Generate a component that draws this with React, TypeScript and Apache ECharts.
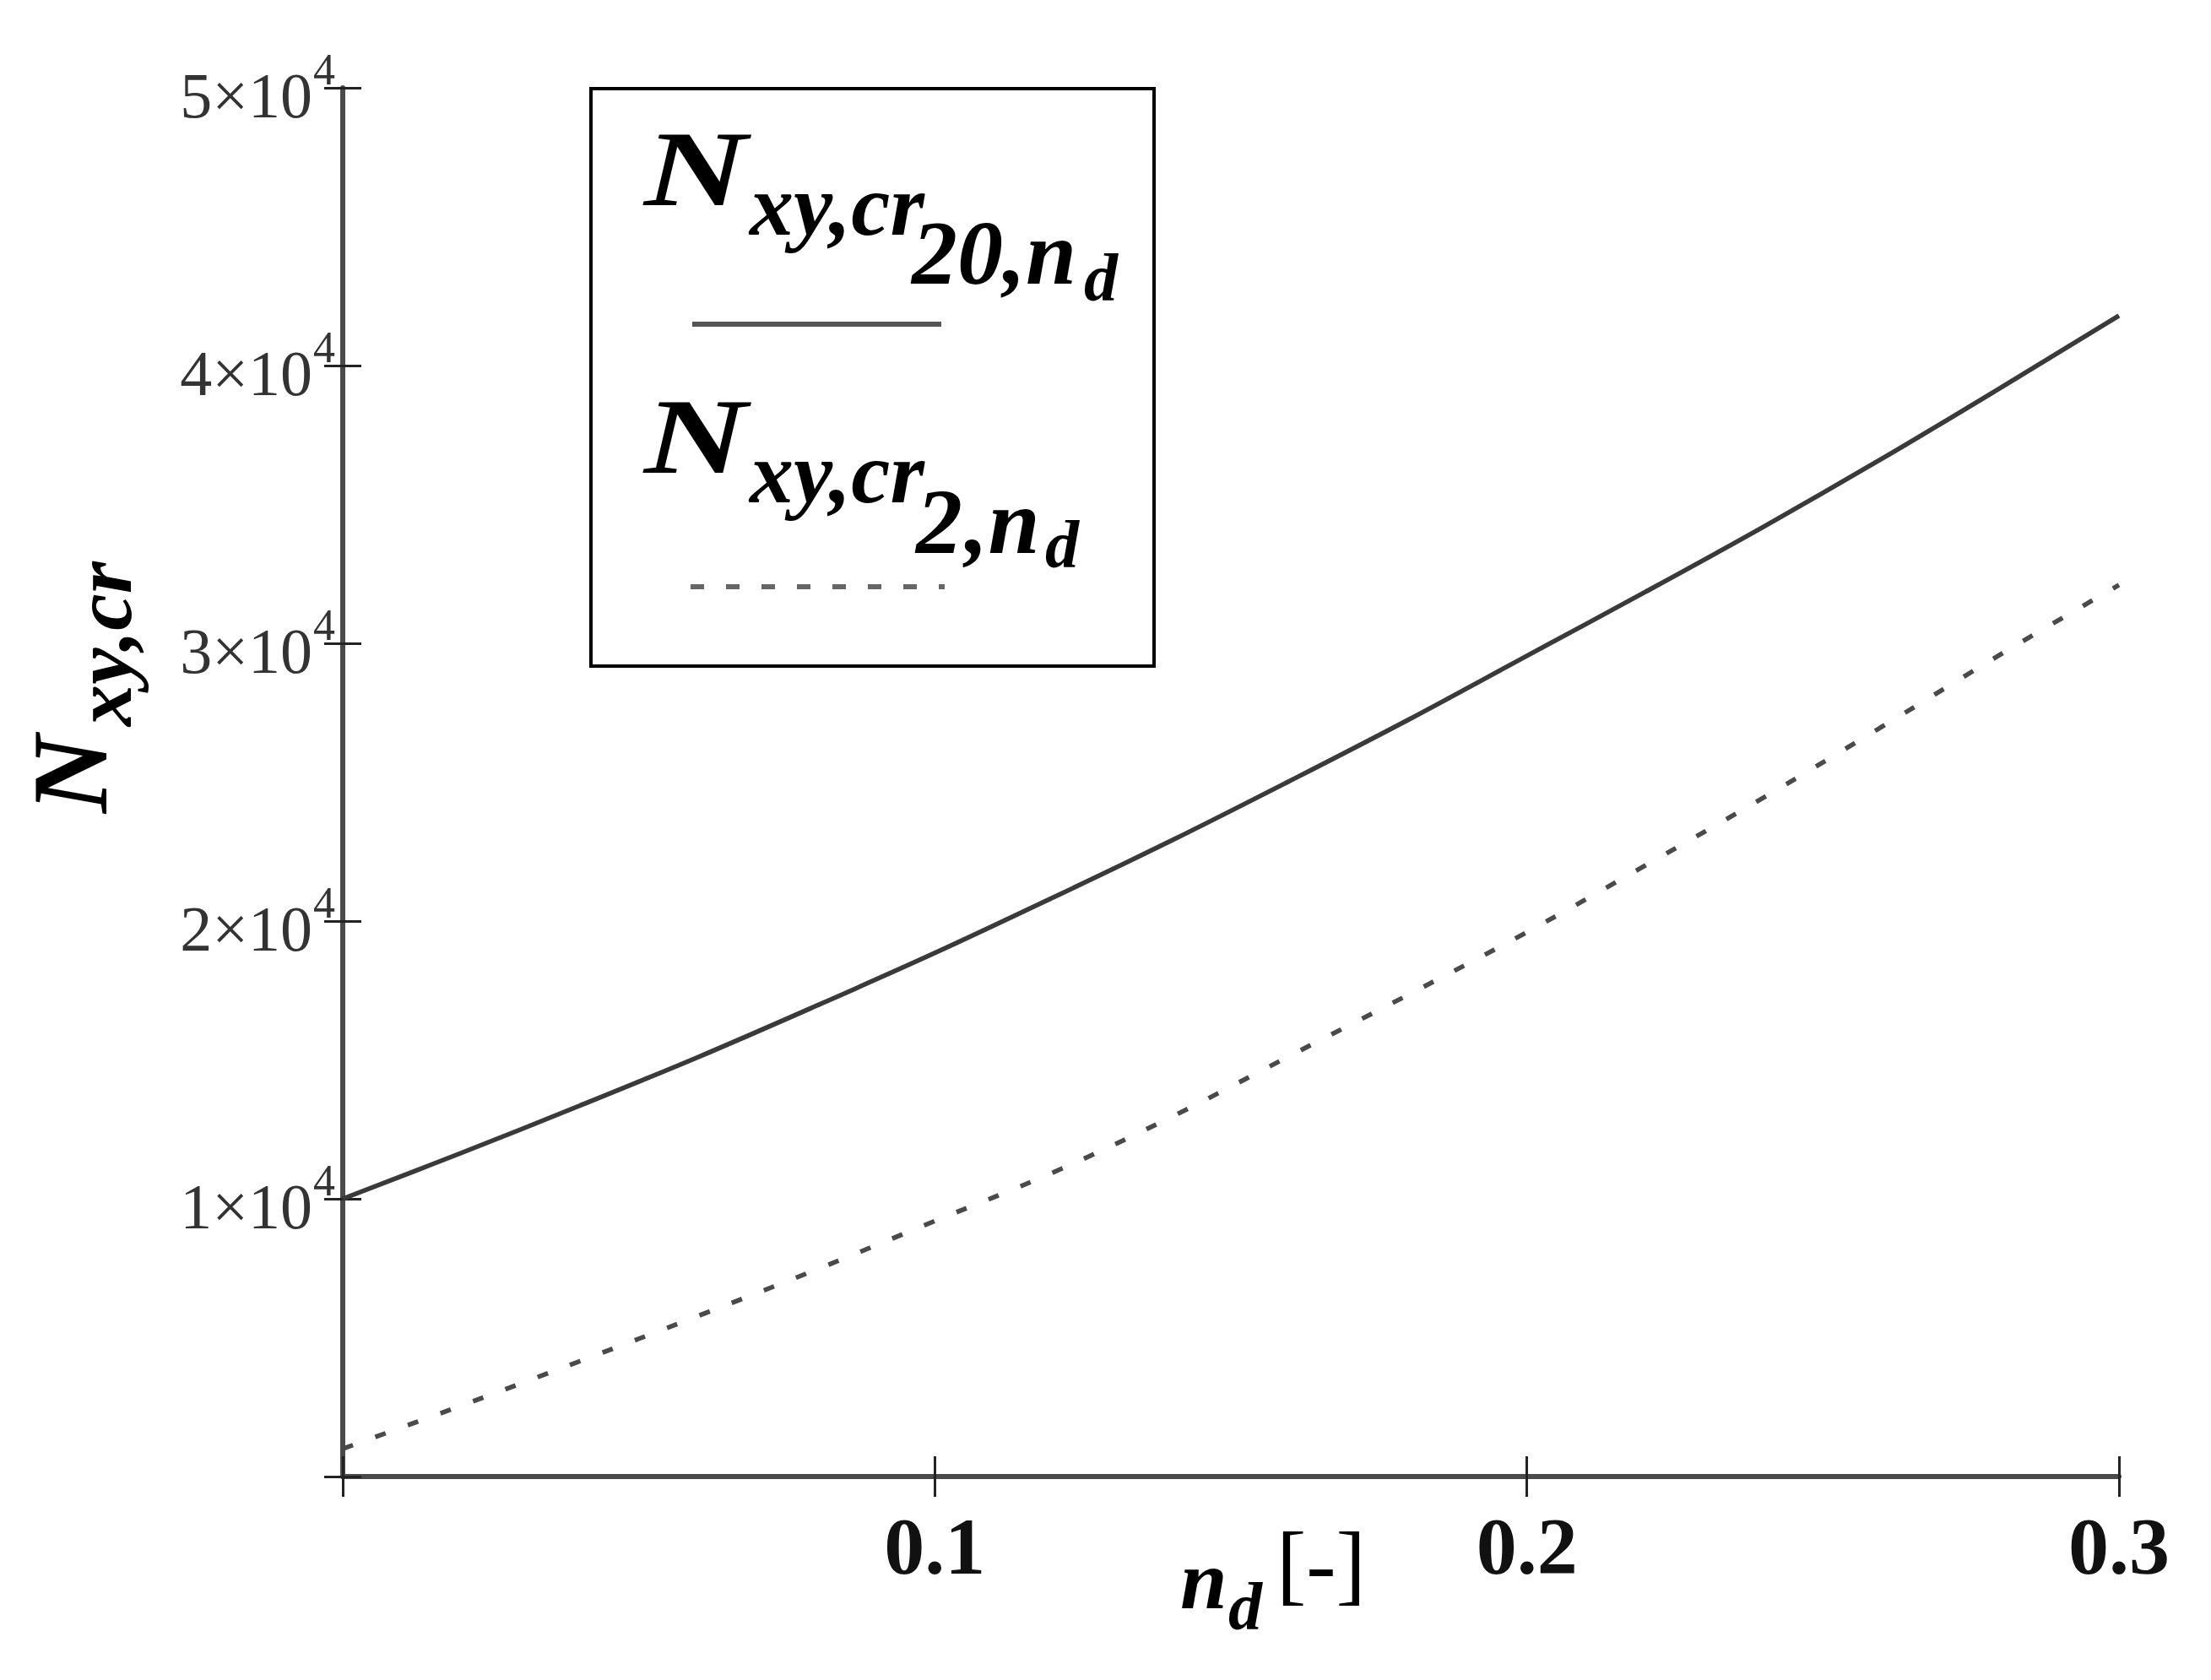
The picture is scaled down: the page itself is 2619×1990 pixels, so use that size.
import React, { useEffect, useRef } from "react";
import * as echarts from "echarts";

// n_d values (x axis)
const ndValues = [0, 0.02, 0.04, 0.06, 0.08, 0.1, 0.12, 0.14, 0.16, 0.18, 0.2, 0.22, 0.24, 0.26, 0.28, 0.3];
// N_xy,cr 20,nd  (solid)
const nCr20 = [10000, 11650, 13350, 15100, 16950, 18850, 20850, 22900, 25050, 27250, 29550, 31850, 34200, 36650, 39200, 41800];
// N_xy,cr 2,nd  (dashed)
const nCr2 = [1000, 2550, 4150, 5780, 7450, 9200, 10950, 12950, 15150, 17350, 19600, 22000, 24450, 27000, 29600, 32100];

const xTickLabels = ["", "0.1", "0.2", "0.3"];
const yTickMantissas = ["", "1", "2", "3", "4", "5"];
const yTickExponent = "4";

const SERIF = '"Liberation Serif", "Times New Roman", serif';

function txt(
  text: string,
  x: number,
  baseline: number,
  size: number,
  opts: { bold?: boolean; italic?: boolean; rotate?: boolean; color?: string; scaleX?: number } = {}
) {
  const bold = opts.bold !== false;
  const italic = opts.italic !== false;
  const off = 0.34 * size;
  const font = `${italic ? "italic " : ""}${bold ? "bold " : ""}${size}px ${SERIF}`;
  const style = {
    text,
    font,
    fill: opts.color || "#000",
    align: "left",
    verticalAlign: "middle",
    textAlign: "left",
    textVerticalAlign: "middle",
  };
  if (opts.rotate) {
    return { type: "text", x: baseline - off, y: x, rotation: Math.PI / 2, silent: true, z: 20, style };
  }
  const el: any = { type: "text", x, y: baseline - off, silent: true, z: 20, style };
  if (opts.scaleX) el.scaleX = opts.scaleX;
  return el;
}

export default function App() {
  const ref = useRef<HTMLDivElement>(null);
  useEffect(() => {
    document.body.style.margin = "0";
    if (!ref.current) return;
    const chart = echarts.init(ref.current, undefined, { renderer: "svg" });
    const axisLineStyle = { color: "#4a4a4a", width: 6 };
    const tickStyle = { color: "#222", width: 3 };
    const option: any = {
      animation: false,
      backgroundColor: "#ffffff",
      grid: { left: 406, right: 109, top: 104, bottom: 241, containLabel: false },
      xAxis: [
        {
          type: "value",
          min: 0,
          max: 0.3,
          interval: 0.1,
          axisLine: { show: true, onZero: false, lineStyle: axisLineStyle },
          axisTick: { show: true, length: 24, lineStyle: tickStyle },
          axisLabel: {
            margin: 34,
            formatter: (_v: number, i: number) => xTickLabels[i] || "",
            fontSize: 96,
            fontWeight: "bold",
            fontFamily: SERIF,
            color: "#111",
          },
          splitLine: { show: false },
        },
        {
          type: "value",
          min: 0,
          max: 0.3,
          interval: 0.1,
          position: "bottom",
          axisLine: { show: false, onZero: false },
          axisTick: { show: true, inside: true, length: 24, lineStyle: tickStyle },
          axisLabel: { show: false },
          splitLine: { show: false },
        },
      ],
      yAxis: [
        {
          type: "value",
          min: 0,
          max: 50000,
          interval: 10000,
          axisLine: { show: true, onZero: false, lineStyle: axisLineStyle },
          axisTick: { show: true, length: 22, lineStyle: tickStyle },
          axisLabel: {
            margin: 36,
            formatter: (_v: number, i: number) => (yTickMantissas[i] ? `${yTickMantissas[i]}×10` : ""),
            fontSize: 76,
            lineHeight: 18,
            verticalAlign: "top",
            fontFamily: SERIF,
            color: "#333",
          },
          splitLine: { show: false },
        },
        {
          type: "value",
          min: 0,
          max: 50000,
          interval: 10000,
          position: "left",
          axisLine: { show: false, onZero: false },
          axisTick: { show: true, inside: true, length: 22, lineStyle: tickStyle },
          axisLabel: {
            margin: 9,
            formatter: (_v: number, i: number) => (yTickMantissas[i] ? yTickExponent : ""),
            fontSize: 52,
            lineHeight: 44,
            verticalAlign: "bottom",
            fontFamily: SERIF,
            color: "#333",
          },
          splitLine: { show: false },
        },
      ],
      series: [
        {
          name: "Nxy,cr20,nd",
          type: "line",
          xAxisIndex: 0,
          yAxisIndex: 0,
          data: ndValues.map((x, i) => [x, nCr20[i]]),
          showSymbol: false,
          smooth: 0.35,
          lineStyle: { color: "#3a3a3a", width: 5.5 },
          z: 3,
        },
        {
          name: "Nxy,cr2,nd",
          type: "line",
          xAxisIndex: 0,
          yAxisIndex: 0,
          data: ndValues.map((x, i) => [x, nCr2[i]]),
          showSymbol: false,
          smooth: 0.35,
          lineStyle: { color: "#4a4a4a", width: 5.5, type: [13, 28] },
          z: 3,
        },
      ],
      graphic: [
        {
          type: "rect",
          z: 10,
          shape: { x: 700, y: 105, width: 667, height: 684 },
          style: { fill: "#fff", stroke: "#000", lineWidth: 4 },
        },
        txt("N", 763, 243, 128, { scaleX: 1.32 }),
        txt("xy,cr", 888, 278, 104),
        txt("20,n", 1080, 336, 108),
        txt("d", 1284, 356, 80),
        {
          type: "line",
          z: 20,
          shape: { x1: 820, y1: 384, x2: 1115, y2: 384 },
          style: { stroke: "#555", lineWidth: 6 },
        },
        txt("N", 763, 560, 128, { scaleX: 1.32 }),
        txt("xy,cr", 888, 595, 104),
        txt("2", 1085, 655, 110),
        txt(",n", 1143, 655, 110),
        txt("d", 1238, 672, 80),
        {
          type: "line",
          z: 20,
          shape: { x1: 818, y1: 695, x2: 1119, y2: 695 },
          style: { stroke: "#666", lineWidth: 6, lineDash: [16, 26] },
        },
        // y-axis title (rotated)
        txt("N", 963, 127, 128, { rotate: true }),
        txt("xy,cr", 860, 155, 98, { rotate: true }),
        // x-axis title
        txt("n", 1398, 1905, 100),
        txt("d", 1455, 1930, 80),
        txt("[-]", 1512, 1889, 106, { bold: false, italic: false }),
      ],
    };
    chart.setOption(option);
    return () => chart.dispose();
  }, []);
  return (
    <div
      ref={ref}
      style={{ position: "absolute", left: 0, top: 0, width: 2619, height: 1990, background: "#fff" }}
    />
  );
}
